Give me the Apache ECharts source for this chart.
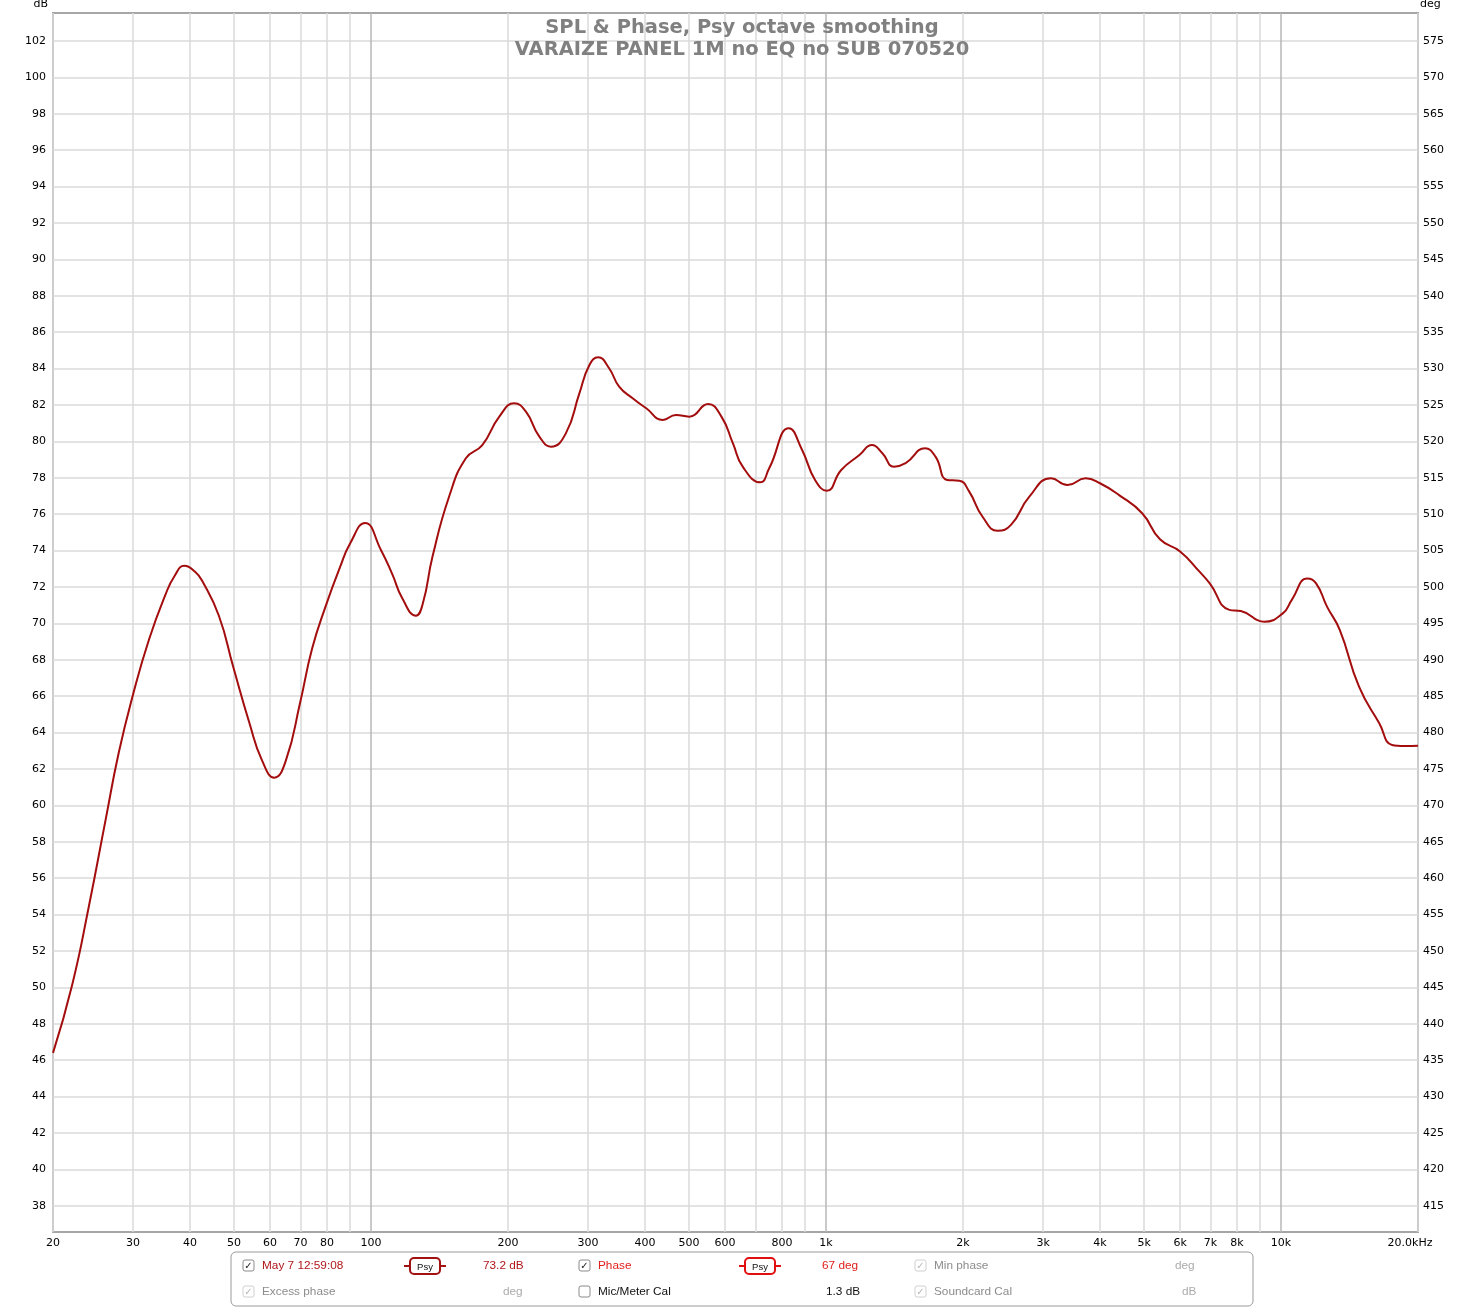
<!DOCTYPE html>
<html><head><meta charset="utf-8">
<script src="https://cdn.jsdelivr.net/npm/echarts@6/dist/echarts.min.js"></script>
<style>html,body{margin:0;padding:0;background:#fff}#c{width:1484px;height:1308px}</style>
</head><body><div id="c"></div>
<script>
// ---- data ----
const freqHz = [20, 22.05, 24.0, 26.1, 27.9, 30, 32.5, 35.3, 37.0, 38.9, 41.0, 42.6, 46.3, 49.8, 54.0, 57.6, 61.3, 65.0, 69.9, 74.2, 79.6, 85.4, 90, 97, 105.2, 111.4, 117.2, 125.5, 130, 136.5, 148.6, 161.6, 175.6, 191.4, 206.4, 219, 234.4, 248.6, 268, 287, 302, 315.6, 333.6, 351, 375.8, 402.6, 438, 468, 500, 550.6, 589, 624, 656, 717, 750, 829, 886, 946, 1004, 1080, 1184, 1262, 1330, 1410, 1496, 1650, 1740, 1846, 1962, 2064, 2208, 2384, 2550, 2798, 3122, 3394, 3720, 4000, 4406, 4952, 5420, 6000, 6620, 6972, 7700, 8160, 9178, 10090, 10560, 11420, 11940, 12620, 13460, 14840, 16440, 17540, 18700, 20000];
const splDb = [46.4, 50.16, 54.5, 59.2, 62.9, 66.1, 69.1, 71.55, 72.6, 73.17, 72.85, 72.31, 70.42, 67.6, 64.55, 62.47, 61.52, 62.47, 65.68, 68.6, 70.99, 73.06, 74.4, 75.52, 74.02, 72.69, 71.36, 70.42, 71.1, 73.67, 77.0, 79.07, 79.8, 81.36, 82.09, 81.63, 80.26, 79.71, 80.44, 82.64, 84.2, 84.62, 84.02, 83.01, 82.37, 81.82, 81.18, 81.45, 81.36, 82.05, 81.36, 79.9, 78.61, 77.75, 78.52, 80.72, 79.53, 77.88, 77.29, 78.43, 79.25, 79.8, 79.35, 78.61, 78.8, 79.62, 79.16, 77.88, 77.84, 77.24, 75.86, 75.09, 75.41, 76.96, 77.97, 77.6, 77.97, 77.7, 77.05, 76.05, 74.62, 73.95, 72.84, 72.2, 70.74, 70.68, 70.09, 70.55, 71.29, 72.46, 72.2, 70.92, 69.64, 66.52, 64.51, 63.32, 63.26, 63.28];

const xGridValues = [20, 30, 40, 50, 60, 70, 80, 90, 100, 200, 300, 400, 500, 600, 700, 800, 900, 1000, 2000, 3000, 4000, 5000, 6000, 7000, 8000, 9000, 10000, 20000];
const xTickValues = [20, 30, 40, 50, 60, 70, 80, 100, 200, 300, 400, 500, 600, 800, 1000, 2000, 3000, 4000, 5000, 6000, 7000, 8000, 10000, 20000];
const xTickLabels = ['20', '30', '40', '50', '60', '70', '80', '100', '200', '300', '400', '500', '600', '800', '1k', '2k', '3k', '4k', '5k', '6k', '7k', '8k', '10k', '20.0kHz'];
const dbTicks = [38, 40, 42, 44, 46, 48, 50, 52, 54, 56, 58, 60, 62, 64, 66, 68, 70, 72, 74, 76, 78, 80, 82, 84, 86, 88, 90, 92, 94, 96, 98, 100, 102];
const degTicks = [415, 420, 425, 430, 435, 440, 445, 450, 455, 460, 465, 470, 475, 480, 485, 490, 495, 500, 505, 510, 515, 520, 525, 530, 535, 540, 545, 550, 555, 560, 565, 570, 575];
const dbRange = [36.555, 103.54];
const degRange = [411.39, 578.85];
const titleLines = ['SPL & Phase, Psy octave smoothing', 'VARAIZE PANEL 1M no EQ no SUB 070520'];

// ---- chart ----
const FONT = "'DejaVu Sans', sans-serif";
const LFONT = "'Liberation Sans', Arial, sans-serif";
const chart = echarts.init(document.getElementById('c'), null, {renderer: 'canvas'});

function labelFor(v) {
  for (let i = 0; i < xTickValues.length; i++) {
    if (Math.abs(xTickValues[i] - v) / xTickValues[i] < 1e-3) {
      return i === xTickValues.length - 1 ? '{last|' + xTickLabels[i] + '}' : xTickLabels[i];
    }
  }
  return '';
}

const light = '#dadada', dark = '#b7b7b7';
const gridColors = [light, light, light, light, light, light, light, light, dark];

function checkbox(x, y, checked, disabled) {
  const els = [{
    type: 'rect', z: 100,
    shape: {x: x, y: y, width: 11, height: 11, r: 2},
    style: {fill: '#fff', stroke: disabled ? '#d0d0d0' : '#8a8a8a', lineWidth: 1}
  }];
  if (checked) {
    els.push({
      type: 'text', z: 101, x: x + 5.5, y: y + 6,
      style: {text: '\u2713', fill: disabled ? '#b8b8b8' : '#222', font: '10px ' + FONT, align: 'center', verticalAlign: 'middle'}
    });
  }
  return els;
}
function txt(x, y, s, color) {
  return {type: 'text', z: 101, x: x, y: y, style: {text: s, fill: color, font: '11.8px ' + LFONT, verticalAlign: 'middle'}};
}
function badge(cx, cy, color) {
  return [
    {type: 'line', z: 100, shape: {x1: cx - 21, y1: cy, x2: cx + 21, y2: cy}, style: {stroke: color, lineWidth: 2}},
    {type: 'rect', z: 101, shape: {x: cx - 15, y: cy - 8, width: 30, height: 16, r: 4}, style: {fill: '#fff', stroke: color, lineWidth: 2}},
    {type: 'text', z: 102, x: cx, y: cy + 1, style: {text: 'Psy', fill: '#111', font: '9.5px ' + LFONT, align: 'center', verticalAlign: 'middle'}}
  ];
}

const r1 = 1266, r2 = 1292;
const red1 = '#b0161a', red2 = '#e0201c', gray = '#8c8c8c', lgray = '#ababab';
const legendEls = [].concat(
  [{type: 'rect', z: 99, shape: {x: 231, y: 1252, width: 1022, height: 54, r: 5}, style: {fill: '#fff', stroke: '#9a9a9a', lineWidth: 1}}],
  checkbox(243, r1 - 6, true, false),
  [txt(262, r1, 'May 7 12:59:08', red1)],
  badge(425, r1, '#a31212'),
  [txt(483, r1, '73.2 dB', red1)],
  checkbox(579, r1 - 6, true, false),
  [txt(598, r1, 'Phase', red2)],
  badge(760, r1, '#e01010'),
  [txt(822, r1, '67 deg', red2)],
  checkbox(915, r1 - 6, true, true),
  [txt(934, r1, 'Min phase', gray)],
  [txt(1175, r1, 'deg', lgray)],
  checkbox(243, r2 - 6, true, true),
  [txt(262, r2, 'Excess phase', gray)],
  [txt(503, r2, 'deg', lgray)],
  checkbox(579, r2 - 6, false, false),
  [txt(598, r2, 'Mic/Meter Cal', '#111')],
  [txt(826, r2, '1.3 dB', '#111')],
  checkbox(915, r2 - 6, true, true),
  [txt(934, r2, 'Soundcard Cal', gray)],
  [txt(1182, r2, 'dB', lgray)]
);

const option = {
  backgroundColor: '#fff',
  animation: false,
  title: {
    text: titleLines.join('\n'),
    left: 'center', top: 17, padding: 0,
    textStyle: {color: '#808080', fontFamily: FONT, fontWeight: 'bold', fontSize: 19.5, lineHeight: 22}
  },
  grid: {
    left: 53, right: 66, top: 13, bottom: 76,
    show: true, borderColor: '#a6a6a6', borderWidth: 2, backgroundColor: 'transparent',
    containLabel: false, outerBoundsMode: 'none'
  },
  xAxis: {
    type: 'log', logBase: 10, min: 20, max: 20000,
    axisLine: {show: false},
    axisTick: {show: false, customValues: xGridValues},
    splitLine: {show: true, lineStyle: {color: gridColors, width: 1.5}},
    minorSplitLine: {show: false},
    axisLabel: {
      customValues: xTickValues, margin: 6,
      color: '#000', fontFamily: FONT, fontSize: 11,
      formatter: function (v) { return labelFor(v); },
      rich: {last: {color: '#000', fontFamily: FONT, fontSize: 11, padding: [0, 16, 0, 0]}}
    }
  },
  yAxis: [{
    type: 'value', min: dbRange[0], max: dbRange[1],
    name: 'dB', nameLocation: 'end', nameGap: 3,
    nameTextStyle: {color: '#000', fontFamily: FONT, fontSize: 11, align: 'right', padding: [0, 5, 0, 0]},
    axisLine: {show: false},
    axisTick: {show: false, customValues: dbTicks},
    splitLine: {show: true, lineStyle: {color: light, width: 1.5}},
    axisLabel: {customValues: dbTicks, color: '#000', fontFamily: FONT, fontSize: 11, margin: 7}
  }, {
    type: 'value', min: degRange[0], max: degRange[1], position: 'right',
    name: 'deg', nameLocation: 'end', nameGap: 3,
    nameTextStyle: {color: '#000', fontFamily: FONT, fontSize: 11, align: 'left', padding: [0, 0, 0, 2]},
    axisLine: {show: false},
    axisTick: {show: false, customValues: degTicks},
    splitLine: {show: false},
    axisLabel: {customValues: degTicks, color: '#000', fontFamily: FONT, fontSize: 11, margin: 5}
  }],
  series: [{
    type: 'line', name: 'SPL', yAxisIndex: 0,
    data: freqHz.map(function (f, i) { return [f, splDb[i]]; }),
    showSymbol: false, smooth: 0.5,
    lineStyle: {color: '#a30d0d', width: 2},
    z: 5
  }],
  graphic: {elements: legendEls}
};
chart.setOption(option);
</script>
</body></html>
